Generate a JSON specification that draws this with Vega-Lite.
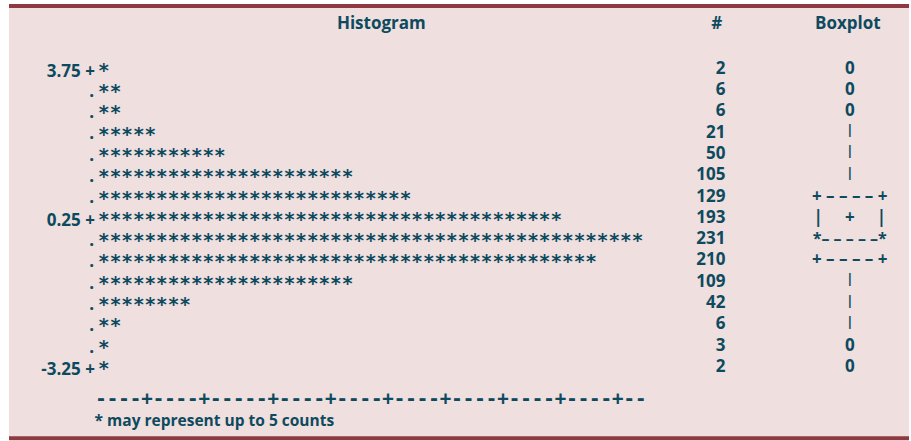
{
  "$schema": "https://vega.github.io/schema/vega-lite/v6.json",
  "width": 911,
  "height": 441,
  "autosize": {"type": "fit", "contains": "padding"},
  "padding": {"left": 7, "top": 4, "right": 0, "bottom": 0},
  "background": "#ffffff",
  "config": {
    "view": {"fill": "#efdfdf", "stroke": null},
    "text": {"font": "Open Sans", "fontWeight": "bold", "color": "#0d4a5e", "fontSize": 17}
  },
  "data": {
    "values": [
      {"bin": 3.75, "label": "3.75 +", "stars": "*", "count": 2, "box": "0"},
      {"bin": 3.25, "label": "", "stars": "**", "count": 6, "box": "0"},
      {"bin": 2.75, "label": "", "stars": "**", "count": 6, "box": "0"},
      {"bin": 2.25, "label": "", "stars": "*****", "count": 21, "box": "|"},
      {"bin": 1.75, "label": "", "stars": "***********", "count": 50, "box": "|"},
      {"bin": 1.25, "label": "", "stars": "**********************", "count": 105, "box": "|"},
      {"bin": 0.75, "label": "", "stars": "***************************", "count": 129, "box": "+\u00a0– – – –\u00a0+"},
      {"bin": 0.25, "label": "0.25 +", "stars": "****************************************", "count": 193, "box": "|\u00a0\u00a0\u00a0\u00a0\u00a0+\u00a0\u00a0\u00a0\u00a0\u00a0|"},
      {"bin": -0.25, "label": "", "stars": "***********************************************", "count": 231, "box": "*– – – – –*"},
      {"bin": -0.75, "label": "", "stars": "*******************************************", "count": 210, "box": "+\u00a0– – – –\u00a0+"},
      {"bin": -1.25, "label": "", "stars": "**********************", "count": 109, "box": "|"},
      {"bin": -1.75, "label": "", "stars": "********", "count": 42, "box": "|"},
      {"bin": -2.25, "label": "", "stars": "**", "count": 6, "box": "|"},
      {"bin": -2.75, "label": "", "stars": "*", "count": 3, "box": "0"},
      {"bin": -3.25, "label": "-3.25 +", "stars": "*", "count": 2, "box": "0"}
    ]
  },
  "layer": [
    {
      "data": {"values": [{}]},
      "mark": {"type": "rule", "color": "#8f3a40", "strokeWidth": 4},
      "encoding": {
        "y": {"datum": 5.1586, "type": "quantitative", "scale": {"domain": [-5.017, 5.205], "nice": false, "zero": false}, "axis": null}
      }
    },
    {
      "data": {"values": [{}]},
      "mark": {"type": "rule", "color": "#8f3a40", "strokeWidth": 4},
      "encoding": {
        "y": {"datum": -4.977, "type": "quantitative", "scale": {"domain": [-5.017, 5.205], "nice": false, "zero": false}, "axis": null}
      }
    },
    {
      "data": {"values": [{}]},
      "mark": {"type": "text", "text": "Histogram", "align": "center", "baseline": "alphabetic"},
      "encoding": {
        "x": {"datum": 32.24, "type": "quantitative", "scale": {"domain": [0, 77.931], "nice": false, "zero": false}, "axis": null},
        "y": {"datum": 4.6135, "type": "quantitative", "scale": {"domain": [-5.017, 5.205], "nice": false, "zero": false}, "axis": null}
      }
    },
    {
      "data": {"values": [{}]},
      "mark": {"type": "text", "text": "#", "align": "center", "baseline": "alphabetic"},
      "encoding": {
        "x": {"datum": 61.29, "type": "quantitative", "scale": {"domain": [0, 77.931], "nice": false, "zero": false}, "axis": null},
        "y": {"datum": 4.6135, "type": "quantitative", "scale": {"domain": [-5.017, 5.205], "nice": false, "zero": false}, "axis": null}
      }
    },
    {
      "data": {"values": [{}]},
      "mark": {"type": "text", "text": "Boxplot", "align": "center", "baseline": "alphabetic"},
      "encoding": {
        "x": {"datum": 72.63, "type": "quantitative", "scale": {"domain": [0, 77.931], "nice": false, "zero": false}, "axis": null},
        "y": {"datum": 4.6135, "type": "quantitative", "scale": {"domain": [-5.017, 5.205], "nice": false, "zero": false}, "axis": null}
      }
    },
    {
      "transform": [{"filter": "datum.label != ''"}],
      "mark": {"type": "text", "align": "right", "baseline": "alphabetic", "dy": 10.5},
      "encoding": {
        "x": {"datum": 7.44, "type": "quantitative", "scale": {"domain": [0, 77.931], "nice": false, "zero": false}, "axis": null},
        "y": {"field": "bin", "type": "quantitative", "scale": {"domain": [-5.017, 5.205], "nice": false, "zero": false}, "axis": null},
        "text": {"field": "label"}
      }
    },
    {
      "transform": [{"filter": "datum.label == ''"}],
      "mark": {"type": "text", "text": ".", "align": "center", "baseline": "alphabetic", "dy": 9.2},
      "encoding": {
        "x": {"datum": 7.155, "type": "quantitative", "scale": {"domain": [0, 77.931], "nice": false, "zero": false}, "axis": null},
        "y": {"field": "bin", "type": "quantitative", "scale": {"domain": [-5.017, 5.205], "nice": false, "zero": false}, "axis": null}
      }
    },
    {
      "mark": {"type": "text", "align": "left", "baseline": "alphabetic", "dy": 10.5, "font": "DejaVu Sans Mono", "fontSize": 19.27},
      "encoding": {
        "x": {"datum": 7.716, "type": "quantitative", "scale": {"domain": [0, 77.931], "nice": false, "zero": false}, "axis": null},
        "y": {"field": "bin", "type": "quantitative", "scale": {"domain": [-5.017, 5.205], "nice": false, "zero": false}, "axis": null},
        "text": {"field": "stars"}
      }
    },
    {
      "mark": {"type": "text", "align": "right", "baseline": "alphabetic", "dy": 7.5},
      "encoding": {
        "x": {"datum": 62.04, "type": "quantitative", "scale": {"domain": [0, 77.931], "nice": false, "zero": false}, "axis": null},
        "y": {"field": "bin", "type": "quantitative", "scale": {"domain": [-5.017, 5.205], "nice": false, "zero": false}, "axis": null},
        "text": {"field": "count", "type": "quantitative"}
      }
    },
    {
      "transform": [{"filter": "datum.box != '|' && datum.bin != -0.25"}],
      "mark": {"type": "text", "align": "center", "baseline": "alphabetic", "dy": 7.5},
      "encoding": {
        "x": {"datum": 72.8, "type": "quantitative", "scale": {"domain": [0, 77.931], "nice": false, "zero": false}, "axis": null},
        "y": {"field": "bin", "type": "quantitative", "scale": {"domain": [-5.017, 5.205], "nice": false, "zero": false}, "axis": null},
        "text": {"field": "box"}
      }
    },
    {
      "transform": [{"filter": "datum.bin == -0.25"}],
      "mark": {"type": "text", "align": "center", "baseline": "alphabetic", "dy": 7.5, "fontSize": 16},
      "encoding": {
        "x": {"datum": 72.8, "type": "quantitative", "scale": {"domain": [0, 77.931], "nice": false, "zero": false}, "axis": null},
        "y": {"field": "bin", "type": "quantitative", "scale": {"domain": [-5.017, 5.205], "nice": false, "zero": false}, "axis": null},
        "text": {"field": "box"}
      }
    },
    {
      "transform": [{"filter": "datum.box == '|'"}],
      "mark": {"type": "text", "align": "center", "baseline": "alphabetic", "dy": 4, "fontSize": 13},
      "encoding": {
        "x": {"datum": 72.8, "type": "quantitative", "scale": {"domain": [0, 77.931], "nice": false, "zero": false}, "axis": null},
        "y": {"field": "bin", "type": "quantitative", "scale": {"domain": [-5.017, 5.205], "nice": false, "zero": false}, "axis": null},
        "text": {"field": "box"}
      }
    },
    {
      "data": {"values": [{}]},
      "mark": {"type": "text", "text": "----+----+-----+----+----+----+----+----+----+--", "align": "left", "baseline": "alphabetic", "font": "DejaVu Sans Mono", "fontSize": 19.08},
      "encoding": {
        "x": {"datum": 7.466, "type": "quantitative", "scale": {"domain": [0, 77.931], "nice": false, "zero": false}, "axis": null},
        "y": {"datum": -4.1935, "type": "quantitative", "scale": {"domain": [-5.017, 5.205], "nice": false, "zero": false}, "axis": null}
      }
    },
    {
      "data": {"values": [{}]},
      "mark": {"type": "text", "text": "* may represent up to 5 counts", "align": "left", "baseline": "alphabetic", "fontSize": 15.5},
      "encoding": {
        "x": {"datum": 7.414, "type": "quantitative", "scale": {"domain": [0, 77.931], "nice": false, "zero": false}, "axis": null},
        "y": {"datum": -4.689, "type": "quantitative", "scale": {"domain": [-5.017, 5.205], "nice": false, "zero": false}, "axis": null}
      }
    }
  ]
}
